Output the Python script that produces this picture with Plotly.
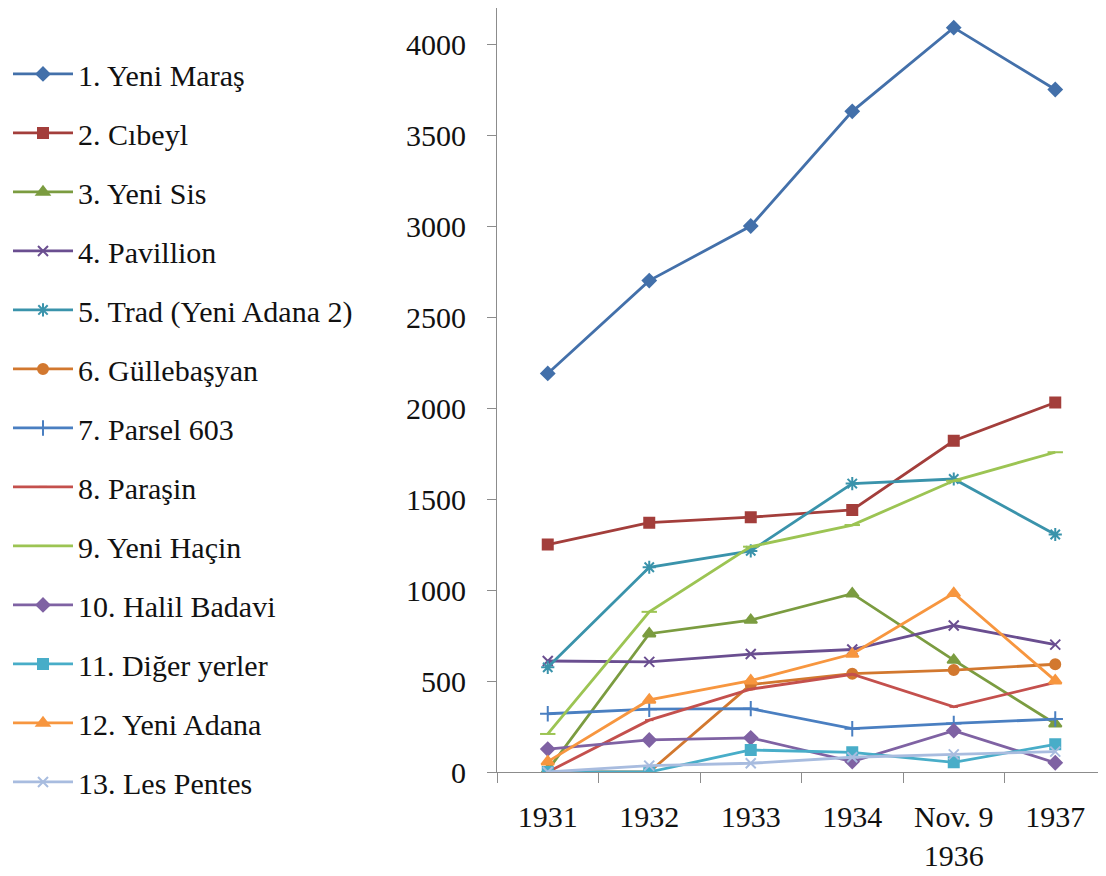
import plotly.graph_objects as go

categories = ["1931", "1932", "1933", "1934", "Nov. 9<br>1936", "1937"]

series_names = [
    "1. Yeni Maraş", "2. Cıbeyl", "3. Yeni Sis", "4. Pavillion",
    "5. Trad (Yeni Adana 2)", "6. Güllebaşyan", "7. Parsel 603", "8. Paraşin",
    "9. Yeni Haçin", "10. Halil Badavi", "11. Diğer yerler", "12. Yeni Adana",
    "13. Les Pentes",
]

yeni_maras = [2190, 2700, 3000, 3630, 4090, 3750]
cibeyl = [1250, 1370, 1400, 1440, 1820, 2030]
yeni_sis = [10, 760, 835, 980, 615, 265]
pavillion = [610, 605, 648, 673, 805, 700]
trad = [575, 1125, 1215, 1585, 1610, 1305]
gullebasyan = [0, 0, 480, 540, 560, 592]
parsel_603 = [320, 345, 348, 238, 267, 291]
parasin = [0, 285, 455, 537, 358, 492]
yeni_hacin = [209, 880, 1238, 1357, 1600, 1757]
halil_badavi = [126, 176, 188, 57, 227, 51]
diger_yerler = [0, 0, 121, 108, 53, 152]
yeni_adana = [57, 396, 502, 648, 982, 502]
les_pentes = [0, 35, 48, 81, 97, 112]

values = [yeni_maras, cibeyl, yeni_sis, pavillion, trad, gullebasyan,
          parsel_603, parasin, yeni_hacin, halil_badavi, diger_yerler,
          yeni_adana, les_pentes]

colors = ["#4370AA", "#A33E3B", "#7B9C40", "#6A4E90", "#3A93AB", "#D2782F",
          "#4A7FC1", "#C4504D", "#9CC453", "#7F62A3", "#48ADC8", "#F7963F",
          "#A8BCDF"]
symbols = ["diamond", "square", "triangle-up", "x-thin-open", "asterisk-open",
           "circle", "cross-thin-open", "line-ew-open", "line-ew-open",
           "diamond", "square", "triangle-up", "x-thin-open"]
sizes = [10, 10, 11, 10, 11, 10, 11, 6, 11, 10, 10, 11, 10]

FONT = "Liberation Serif"

fig = go.Figure()
for i, (name, vals) in enumerate(zip(series_names, values)):
    fig.add_trace(go.Scatter(
        x=categories, y=vals, name=name, mode="lines+markers",
        legendgroup=f"g{i}",
        line=dict(color=colors[i], width=2.8),
        marker=dict(symbol=symbols[i], size=sizes[i], color=colors[i],
                    line=dict(color=colors[i], width=2)),
    ))

fig.update_layout(
    width=1098, height=868,
    margin=dict(l=489, r=0, t=0, b=104),
    paper_bgcolor="white", plot_bgcolor="white",
    font=dict(family=FONT, size=30, color="#111111"),
    showlegend=True,
    legend=dict(
        xref="container", yref="container",
        x=0.0, y=0.954, xanchor="left", yanchor="top",
        maxheight=1,
        traceorder="grouped", tracegroupgap=17,
        itemwidth=60,
        font=dict(family=FONT, size=30, color="#111111"),
        bgcolor="rgba(0,0,0,0)",
    ),
    xaxis=dict(
        type="category", range=[-0.5, 5.5], automargin=False,
        showline=True, linecolor="#8c8c8c", linewidth=1,
        ticks="outside", tickson="boundaries", ticklen=10, tickcolor="#8c8c8c",
        ticklabelstandoff=18,
        showgrid=False, zeroline=False,
        tickfont=dict(family=FONT, size=30),
    ),
    yaxis=dict(
        range=[0, 4198], automargin=False,
        tickvals=[0, 500, 1000, 1500, 2000, 2500, 3000, 3500, 4000],
        showline=True, linecolor="#8c8c8c", linewidth=1,
        ticks="outside", ticklen=9, tickcolor="#8c8c8c",
        ticklabelstandoff=15,
        showgrid=False, zeroline=False,
        tickfont=dict(family=FONT, size=30),
    ),
)

fig.write_html("out.html")
